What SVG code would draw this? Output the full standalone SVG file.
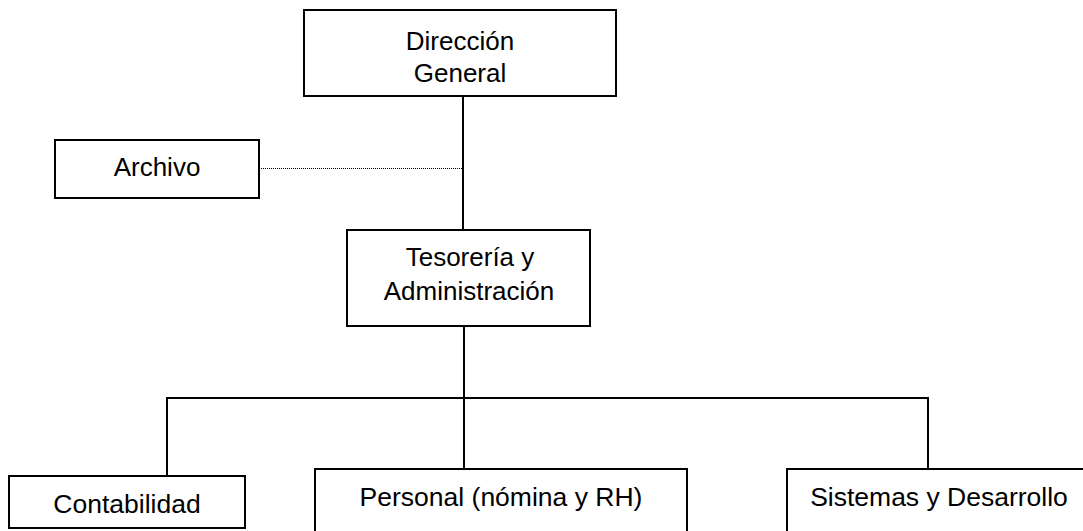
<svg xmlns="http://www.w3.org/2000/svg" width="1083" height="531" viewBox="0 0 1083 531">
  <style>
    .box { fill: #ffffff; stroke: #000000; stroke-width: 2; }
    .lbl { font-family: "Liberation Sans", Arial, sans-serif; font-size: 26px; fill: #000000; text-anchor: middle; }
    .lbl.low { font-size: 26.5px; }
    .wire { fill: none; stroke: #000000; stroke-width: 2; }
    .dots { fill: none; stroke: #000000; stroke-width: 1; stroke-dasharray: 1 1; }
  </style>
  <rect width="1083" height="531" fill="#ffffff"/>

  <!-- connectors -->
  <g id="connectors">
    <line class="wire" x1="463" y1="96" x2="463" y2="230"/>
    <line class="dots" x1="261" y1="168.5" x2="462" y2="168.5"/>
    <line class="wire" x1="464" y1="326" x2="464" y2="469"/>
    <polyline class="wire" points="167,476 167,398 928,398 928,469"/>
  </g>

  <g id="direccion-general">
    <rect class="box" x="304" y="10" width="312" height="86"/>
    <text class="lbl" x="460" y="50">Dirección</text>
    <text class="lbl" x="460" y="82">General</text>
  </g>

  <g id="archivo">
    <rect class="box" x="55" y="140" width="204" height="58"/>
    <text class="lbl" x="157" y="176">Archivo</text>
  </g>

  <g id="tesoreria">
    <rect class="box" x="347" y="230" width="243" height="96"/>
    <text class="lbl" x="470" y="266">Tesorería y</text>
    <text class="lbl" x="469" y="300">Administración</text>
  </g>

  <g id="contabilidad">
    <rect class="box" x="9" y="476" width="236" height="52"/>
    <text class="lbl low" x="127" y="513">Contabilidad</text>
  </g>

  <g id="personal">
    <rect class="box" x="315" y="469" width="372" height="70"/>
    <text class="lbl low" x="501" y="506">Personal (nómina y RH)</text>
  </g>

  <g id="sistemas">
    <rect class="box" x="787" y="469" width="310" height="70"/>
    <text class="lbl low" x="939" y="506">Sistemas y Desarrollo</text>
  </g>
</svg>
